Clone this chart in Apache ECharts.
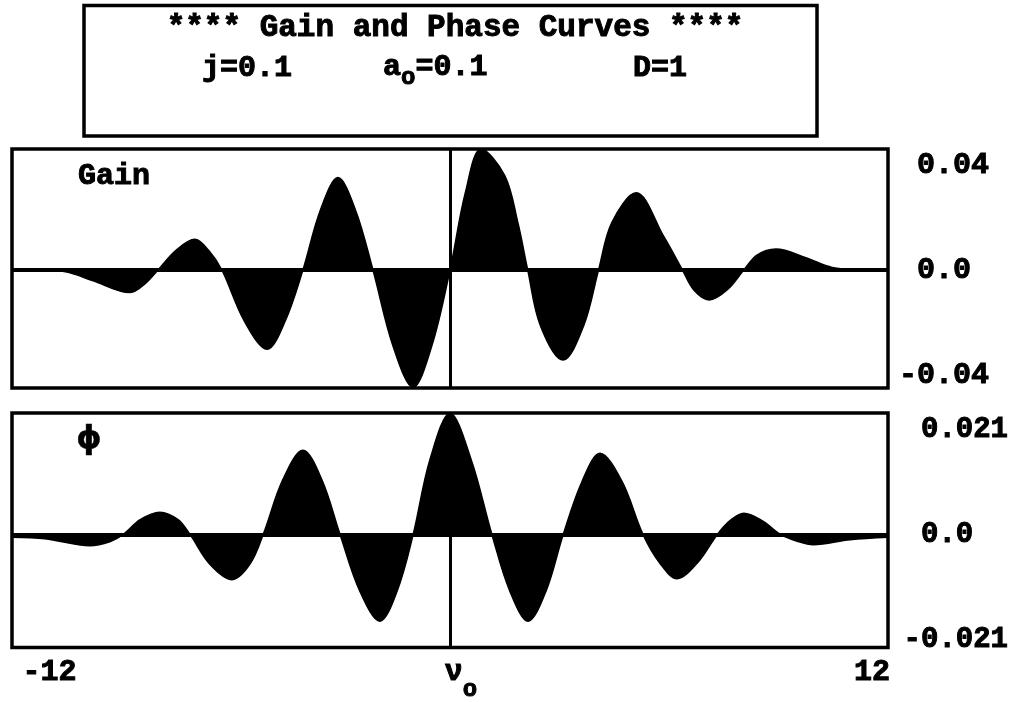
<!DOCTYPE html>
<html><head><meta charset="utf-8">
<script src="https://cdn.jsdelivr.net/npm/echarts@6/dist/echarts.min.js"></script>
<style>html,body{margin:0;padding:0;background:#fff}#c{width:1022px;height:702px}</style>
</head><body><div id="c"></div>
<script>
// ---- data (x in units from nu0) ----
const gainX = [-12, -11.2, -10.5, -9.8, -8.77, -8.35, -8.0,
  -7.5, -6.99, -6.62, -6.25,
  -5.63, -5.01, -4.52, -4.03,
  -3.55, -3.07, -2.59, -2.11,
  -1.56, -1.01, -0.5, 0,
  0.43, 0.85, 1.5, 1.86, 2.13,
  2.48, 3.1, 3.66, 4.07,
  4.43, 5.1, 5.86, 6.37,
  6.68, 7.1, 7.59, 8.05,
  8.41, 8.93, 9.75, 10.47, 11.2, 12];
const gainY = [0, -0.0001, -0.0008, -0.004, -0.0086, -0.0052, 0,
  0.0076, 0.0117, 0.0076, 0,
  -0.0196, -0.0302, -0.0196, 0,
  0.0229, 0.0352, 0.0229, 0,
  -0.029, -0.0447, -0.029, 0,
  0.030, 0.0461, 0.036, 0.018, 0,
  -0.0213, -0.0343, -0.0213, 0,
  0.018, 0.0294, 0.0127, 0,
  -0.0076, -0.0114, -0.0076, 0,
  0.0057, 0.0080, 0.0047, 0.001, 0.0001, 0];

const phaseX = [-12, -11.1, -9.86, -9.32, -8.96,
  -8.49, -7.95, -7.45, -7.12,
  -6.58, -5.97, -5.48, -5.12,
  -4.58, -4.03, -3.51, -3.01,
  -2.47, -1.92, -1.45, -1.01,
  -0.55, 0, 0.58, 1.15,
  1.64, 2.14, 2.63, 3.10,
  3.62, 4.11, 4.71, 5.29,
  5.75, 6.22, 6.77, 7.32,
  7.67, 8.05, 8.55, 9.07,
  9.51, 9.95, 10.96, 12];
const phaseY = [-0.0005, -0.0008, -0.0022, -0.0014, 0,
  0.003, 0.0045, 0.003, 0,
  -0.0059, -0.0090, -0.0059, 0,
  0.011, 0.0169, 0.011, 0,
  -0.0113, -0.0173, -0.0113, 0,
  0.0150, 0.0243, 0.0150, 0,
  -0.0113, -0.0173, -0.0113, 0,
  0.0107, 0.0163, 0.0107, 0,
  -0.0057, -0.0088, -0.0057, 0,
  0.0028, 0.0043, 0.0028, 0,
  -0.0013, -0.0020, -0.0010, -0.0005];

const xTickValues = [-12, 0, 12];
const xTickLabels = ['-12', 'ν', '12'];
const gainTickValues = [-0.04, 0, 0.04];
const gainTickLabels = ['-0.04', '0.0', '0.04'];
const phaseTickValues = [-0.021, 0, 0.021];
const phaseTickLabels = ['-0.021', '0.0', '0.021'];
const titleLine = '**** Gain and Phase Curves ****';
const paramJ = 'j=0.1';
const paramA = ['a', 'o', '=0.1'];
const paramD = 'D=1';
const panelNames = ['Gain', 'ϕ'];

// ---- chart ----
const black = '#000';
const FONT = 'Liberation Mono';
function pairs(xs, ys) { return xs.map((x, i) => [x, ys[i]]); }
function lookup(vals, labels, v) {
  for (let i = 0; i < vals.length; i++) if (Math.abs(vals[i] - v) < 1e-9) return labels[i];
  return '';
}
function padLabel(labels, s) {
  const w = Math.max.apply(null, labels.filter(t => t[0] !== '-').map(t => t.length));
  while (s[0] !== '-' && s.length < w) s += ' ';
  return s;
}
const lab = { fontFamily: FONT, fontWeight: 'bold', fontSize: 30, color: black, textBorderColor: black, textBorderWidth: 1 };

const chart = echarts.init(document.getElementById('c'), null, { renderer: 'canvas' });
const option = {
  animation: false,
  backgroundColor: '#fff',
  grid: [
    { left: 12, top: 149, width: 876, height: 239, show: true, borderColor: black, borderWidth: 3.5, backgroundColor: '#fff' },
    { left: 12, top: 413, width: 876, height: 239, show: true, borderColor: black, borderWidth: 3.5, backgroundColor: '#fff' }
  ],
  xAxis: [
    { gridIndex: 0, type: 'value', min: -12, max: 12, axisLine: { show: false }, axisTick: { show: false }, axisLabel: { show: false }, splitLine: { show: false } },
    { gridIndex: 1, type: 'value', min: -12, max: 12, axisLine: { show: false }, axisTick: { show: false }, splitLine: { show: false },
      axisLabel: Object.assign({}, lab, {
        customValues: xTickValues, margin: 10,
        formatter: function (v) {
          const t = lookup(xTickValues, xTickLabels, v);
          if (v === xTickValues[0]) return '{l|' + t + '}';
          if (v === xTickValues[2]) return '{r|' + t + '}';
          return '{n|' + t + '}{s|o}';
        },
        rich: {
          l: Object.assign({}, lab, { padding: [0, 0, 0, 75], verticalAlign: 'top' }),
          r: Object.assign({}, lab, { padding: [0, 32, 0, 0], verticalAlign: 'top' }),
          n: Object.assign({}, lab, { padding: [0, 0, 0, 22], verticalAlign: 'top' }),
          s: Object.assign({}, lab, { fontSize: 24, padding: [20, 0, 0, 0], verticalAlign: 'top' })
        }
      }) }
  ],
  yAxis: [
    { gridIndex: 0, type: 'value', position: 'right', min: -0.04495, max: 0.0461,
      axisLine: { show: false }, axisTick: { show: false }, splitLine: { show: false },
      axisLabel: Object.assign({}, lab, { customValues: gainTickValues, align: 'right', margin: 101,
        formatter: v => padLabel(gainTickLabels, lookup(gainTickValues, gainTickLabels, v)) }) },
    { gridIndex: 1, type: 'value', position: 'right', min: -0.02257, max: 0.02434,
      axisLine: { show: false }, axisTick: { show: false }, splitLine: { show: false },
      axisLabel: Object.assign({}, lab, { fontSize: 29, customValues: phaseTickValues, align: 'right', margin: 120,
        formatter: v => padLabel(phaseTickLabels, lookup(phaseTickValues, phaseTickLabels, v)) }) }
  ],
  series: [
    { type: 'line', xAxisIndex: 0, yAxisIndex: 0, data: pairs(gainX, gainY), smooth: 0.35, showSymbol: false,
      lineStyle: { color: black, width: 1.5 }, areaStyle: { color: black, opacity: 1 }, silent: true,
      markLine: { silent: true, symbol: 'none', label: { show: false },
        data: [ { yAxis: 0, lineStyle: { color: black, width: 4, type: 'solid' } },
                { xAxis: 0, lineStyle: { color: black, width: 3, type: 'solid' } } ] } },
    { type: 'line', xAxisIndex: 1, yAxisIndex: 1, data: pairs(phaseX, phaseY), smooth: 0.35, showSymbol: false,
      lineStyle: { color: black, width: 1.5 }, areaStyle: { color: black, opacity: 1 }, silent: true,
      markLine: { silent: true, symbol: 'none', label: { show: false },
        data: [ { yAxis: 0, lineStyle: { color: black, width: 4, type: 'solid' } },
                { xAxis: 0, lineStyle: { color: black, width: 3, type: 'solid' } } ] } }
  ],
  graphic: [
    { type: 'rect', z: 10, shape: { x: 84, y: 5.5, width: 733, height: 130.5 },
      style: { fill: '#fff', stroke: black, lineWidth: 3.5 } },
    { type: 'text', z: 11, x: 455, y: 28,
      style: { text: titleLine, font: 'bold 31px "' + FONT + '"', fill: black, stroke: black, lineWidth: 1, align: 'center', verticalAlign: 'middle' } },
    { type: 'text', z: 11, x: 202, y: 68,
      style: { text: paramJ, font: 'bold 30px "' + FONT + '"', fill: black, stroke: black, lineWidth: 1, align: 'left', verticalAlign: 'middle' } },
    { type: 'text', z: 11, x: 383, y: 52,
      style: { text: '{b|' + paramA[0] + '}{s|' + paramA[1] + '}{b|' + paramA[2] + '}', fill: black, align: 'left', verticalAlign: 'top',
        rich: { b: { font: 'bold 30px "' + FONT + '"', fill: black, stroke: black, lineWidth: 1, verticalAlign: 'top' },
                s: { font: 'bold 24px "' + FONT + '"', fill: black, stroke: black, lineWidth: 1, verticalAlign: 'top', padding: [14, 0, 0, 0] } } } },
    { type: 'text', z: 11, x: 633, y: 68,
      style: { text: paramD, font: 'bold 30px "' + FONT + '"', fill: black, stroke: black, lineWidth: 1, align: 'left', verticalAlign: 'middle' } },
    { type: 'text', z: 11, x: 78, y: 176,
      style: { text: panelNames[0], font: 'bold 30px "' + FONT + '"', fill: black, stroke: black, lineWidth: 1, align: 'left', verticalAlign: 'middle' } },
    { type: 'text', z: 11, x: 89, y: 440,
      style: { text: panelNames[1], font: 'bold 32px "DejaVu Sans"', fill: black, stroke: black, lineWidth: 0.5, align: 'center', verticalAlign: 'middle' } }
  ]
};
chart.setOption(option);
</script>
</body></html>
